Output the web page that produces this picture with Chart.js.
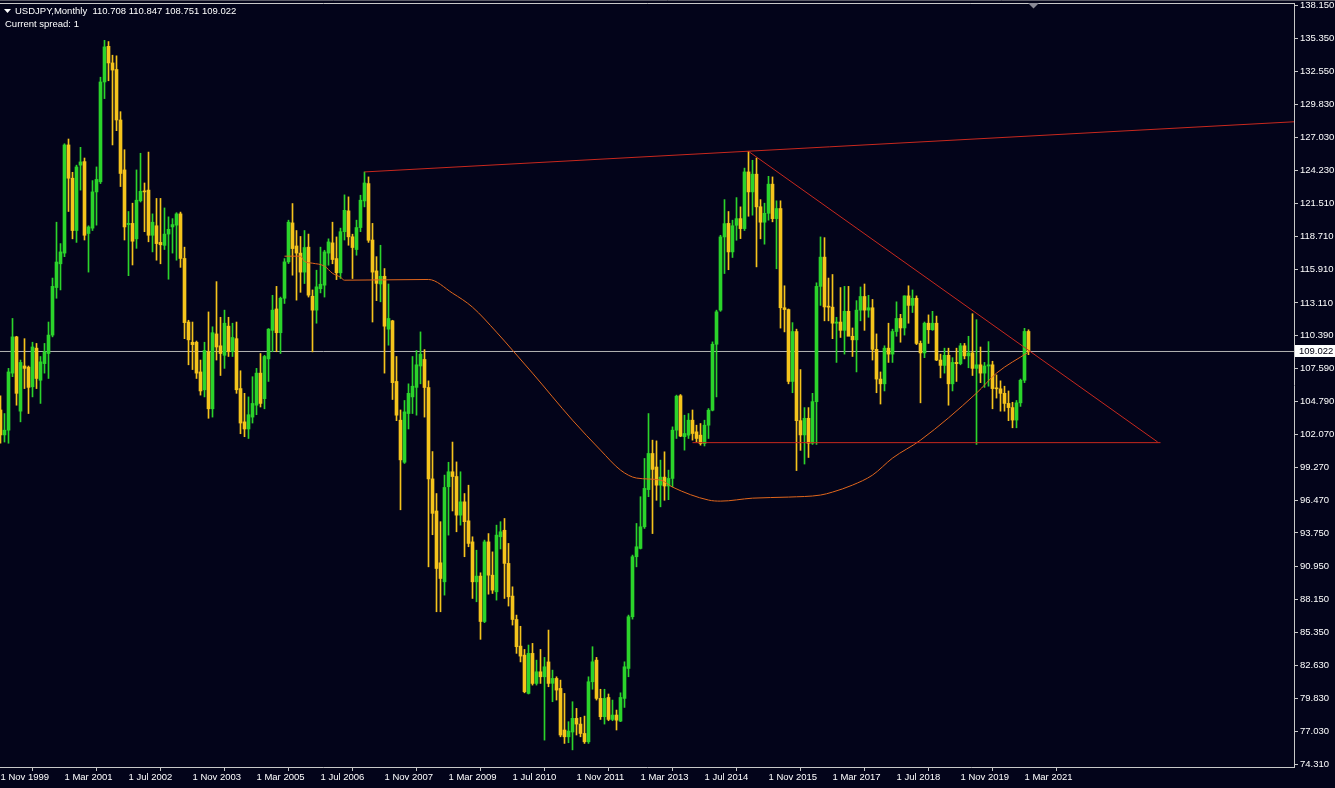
<!DOCTYPE html>
<html><head><meta charset="utf-8">
<script src="https://cdn.jsdelivr.net/npm/chart.js@4.4.1/dist/chart.umd.min.js"></script>
<style>
html,body{margin:0;padding:0;background:#03041a;overflow:hidden}
#wrap{position:relative;width:1335px;height:788px}
</style></head><body>
<div id="wrap"><canvas id="c" width="1335" height="788"></canvas></div>
<script>
// Monthly candles, index 0 = Nov 1999
const symbolName = 'USDJPY';
const periodName = 'Monthly';
const spreadText = 'Current spread: 1';
const opens = [
104.1,102.0,102.4,107.2,110.25,104.0,107.8,107.7,106.05,109.3,106.6,108.0,
108.85,110.4,114.4,116.4,117.3,126.4,123.6,119.2,124.7,125.0,118.95,119.4,
122.45,123.3,131.7,134.7,133.3,132.75,128.5,124.3,119.7,119.8,118.5,121.7,
122.5,122.6,118.8,119.6,118.2,117.95,118.9,119.5,119.65,120.6,116.85,111.5,
109.8,109.8,107.3,105.8,109.0,104.2,110.5,109.5,108.7,111.15,109.0,110.1,
105.9,103.1,102.5,103.5,104.5,107.2,105.05,108.4,110.8,112.6,110.6,113.5,
116.56,119.84,117.9,117.3,115.7,117.8,113.67,112.5,114.3,114.6,117.3,118.16,
116.84,115.64,119.1,120.85,118.67,117.6,119.45,121.69,123.15,118.4,115.8,114.7,
115.35,110.9,111.6,106.5,103.24,99.7,103.8,105.2,106.0,107.8,108.35,105.99,
98.3,95.6,91.24,89.64,97.64,98.9,98.5,95.25,96.37,94.77,93.0,89.64,
90.12,86.3,93.0,90.2,88.8,93.43,93.98,91.19,88.44,86.47,84.23,83.47,
80.25,83.62,81.09,82.07,81.65,82.9,81.1,81.51,80.67,77.17,76.6,77.0,
78.15,77.67,76.88,76.18,81.23,83.05,79.83,78.29,79.91,78.06,78.43,77.92,
79.83,82.35,86.7,91.75,92.45,94.27,97.4,100.44,99.3,97.77,98.45,97.7,
98.34,102.4,105.3,101.85,101.98,103.24,102.26,101.98,101.28,102.82,104.08,109.63,
112.5,118.66,119.8,117.4,119.64,120.2,119.36,124.13,122.45,123.94,121.2,119.9,
120.65,123.1,120.2,121.05,112.7,112.55,106.5,110.7,103.2,102.0,103.4,101.3,
104.8,114.5,116.96,112.77,112.75,111.4,111.5,110.8,112.4,110.3,110.0,112.5,
113.65,112.5,112.7,109.2,106.7,106.3,109.3,108.8,110.7,111.8,111.0,113.7,
112.9,113.5,109.7,108.9,111.4,110.85,111.4,108.3,107.85,108.7,106.3,108.1,
108.0,109.5,108.65,108.9,107.6,107.9,107.2,107.8,107.9,105.9,105.88,105.5,
104.65,104.3,103.25,104.7,106.6,110.708];
const highs = [
105.3,103.8,107.6,111.8,110.3,108.3,110.1,107.8,109.8,109.7,108.6,109.7,
111.5,115.2,119.9,118.1,126.5,126.9,124.1,124.7,126.2,125.3,119.6,123.4,
124.55,132.1,135.2,135.1,133.95,133.9,129.2,126.0,120.8,121.5,124.3,125.7,
123.2,125.8,120.6,121.9,121.9,121.1,120.35,120.2,120.7,120.75,117.8,111.65,
111.5,109.9,108.3,109.8,112.35,111.1,114.9,111.9,112.5,111.9,111.4,111.5,
107.4,105.5,105.2,106.9,107.6,108.85,108.7,110.95,113.75,114.5,113.6,116.84,
120.07,121.47,119.2,118.7,119.2,118.9,114.2,115.86,117.8,117.54,118.5,119.9,
118.66,119.4,122.2,122.03,118.89,120.07,122.17,124.13,123.71,119.8,117.0,117.96,
116.0,114.7,111.65,108.6,104.1,104.9,106.3,108.6,109.1,110.67,109.18,106.55,
100.6,97.07,94.7,98.62,99.7,101.4,99.73,98.9,97.07,97.77,93.43,92.3,
90.4,93.15,93.7,92.16,94.41,94.7,94.97,92.87,89.22,86.84,85.9,83.95,
84.32,84.46,83.05,83.95,83.28,85.58,82.21,81.65,81.37,80.25,77.87,79.55,
78.99,78.23,78.34,81.65,84.18,83.28,80.6,80.6,80.2,79.69,78.85,80.3,
82.91,86.84,91.89,94.55,96.8,100.02,103.8,101.56,101.5,99.88,100.58,99.04,
102.68,105.35,105.4,103.66,103.8,104.1,102.82,102.96,103.24,104.22,109.83,112.5,
118.8,121.8,120.8,120.07,121.97,121.19,124.45,125.86,125.11,125.3,121.8,121.5,
123.76,123.71,121.7,121.7,114.55,112.6,111.45,110.9,107.5,104.3,104.3,105.5,
114.8,118.66,118.6,115.2,115.5,111.9,114.4,114.5,114.5,111.0,113.3,114.45,
114.7,113.75,113.4,110.5,107.3,109.5,111.4,110.9,113.2,112.15,113.7,114.55,
114.2,113.7,109.9,111.5,112.1,112.4,112.0,108.8,109.3,109.3,108.5,109.3,
109.7,109.7,110.3,112.2,111.7,109.4,108.1,109.85,108.2,107.05,106.55,106.1,
105.7,104.75,104.9,106.7,110.97,110.847];
const lows = [
101.3,101.4,101.3,106.9,104.5,103.1,105.9,103.8,105.2,105.9,104.65,107.2,
106.75,110.25,113.5,114.2,117.0,120.8,118.5,118.2,122.6,118.4,115.7,119.2,
119.65,123.15,130.3,131.8,126.4,127.6,122.9,118.4,115.4,116.3,117.7,121.6,
119.1,118.25,117.4,116.7,116.4,117.6,115.1,117.3,116.7,116.1,110.1,107.9,
107.5,106.75,105.35,105.2,103.4,103.5,108.3,107.0,107.6,108.6,108.6,105.5,
102.1,101.85,101.7,103.0,103.7,104.35,104.2,106.5,109.0,109.0,108.85,113.06,
116.42,115.44,113.34,114.0,114.74,113.6,108.99,111.4,113.95,113.6,116.28,116.4,
115.07,115.16,118.4,117.96,115.16,117.12,119.1,121.19,118.2,111.5,113.3,113.2,
107.2,109.55,104.98,103.2,95.7,99.6,102.5,103.8,103.66,106.3,103.5,90.9,
93.6,87.12,87.12,88.52,93.57,95.6,93.85,94.41,91.75,92.59,88.24,87.96,
84.8,86.2,88.6,88.66,88.1,92.4,88.24,87.6,86.0,83.62,82.9,80.3,
80.2,80.95,80.95,81.09,76.32,80.81,79.55,79.69,76.6,76.04,76.1,75.5,
76.75,76.6,76.04,76.04,80.6,79.69,78.06,77.67,77.95,77.95,77.17,77.87,
79.07,81.65,86.5,90.9,92.4,94.13,96.8,93.7,96.5,95.95,96.5,96.55,
97.63,101.7,101.85,100.72,101.7,101.56,101.42,101.14,101.07,101.7,104.02,105.2,
112.4,115.58,115.9,116.93,118.38,118.52,119.2,120.4,120.49,116.14,118.5,118.05,
120.07,119.93,115.98,110.99,110.67,106.3,105.55,99.0,100.7,99.55,100.1,101.2,
101.2,112.9,111.6,111.6,110.1,108.1,110.2,108.8,110.6,108.6,107.3,111.6,
110.8,111.9,108.3,105.55,104.6,105.7,108.1,108.1,110.3,109.8,110.4,111.4,
112.3,109.6,104.7,108.5,109.7,110.8,108.25,106.8,107.2,104.5,105.7,106.5,
107.9,108.4,107.65,107.0,101.2,106.4,106.0,106.1,104.2,105.1,104.0,104.0,
103.2,102.6,102.6,104.4,106.4,108.751];
const closes = [
102.0,102.4,107.3,110.25,105.5,108.1,107.6,106.0,109.4,106.75,108.15,109.0,
110.4,114.5,116.55,117.4,126.4,123.6,119.2,124.55,124.97,118.8,119.5,122.45,
123.5,131.7,134.65,133.3,132.7,128.5,124.0,119.5,119.8,118.3,121.75,122.5,
122.45,118.8,119.9,118.1,118.0,118.9,119.3,119.7,120.6,116.85,111.45,110.0,
109.6,107.2,105.7,109.1,104.2,110.6,109.4,108.85,111.4,109.0,110.2,105.8,
103.0,102.5,103.7,104.65,107.2,104.65,108.6,110.9,112.5,110.6,113.5,116.56,
119.9,117.68,117.3,115.7,117.77,113.76,112.5,114.46,114.68,117.4,118.24,116.76,
115.64,119.1,120.9,118.67,117.77,119.45,121.75,123.2,118.38,115.7,114.75,115.35,
111.15,111.8,106.4,103.66,99.9,103.94,105.5,106.1,107.9,108.8,105.99,98.3,
95.4,90.76,89.92,97.58,98.9,98.5,95.25,96.37,94.7,92.87,89.64,90.12,
86.3,93.0,90.2,88.94,93.57,93.85,91.19,88.38,86.47,84.18,83.39,80.39,
83.62,81.09,82.07,81.65,82.49,81.09,81.51,80.53,76.75,76.6,77.08,78.15,
77.67,76.88,76.18,81.23,82.91,79.83,78.29,79.83,78.06,78.43,78.0,79.91,
82.49,86.7,91.75,92.59,94.27,97.5,100.44,99.1,97.77,98.45,97.7,98.34,
102.4,105.26,101.9,102.12,103.24,102.12,101.7,101.28,102.82,104.08,109.63,112.36,
118.66,119.78,117.4,119.6,120.2,119.36,124.13,122.45,123.94,121.19,119.9,120.65,
123.1,120.2,121.05,112.7,112.55,106.5,110.7,103.2,102.0,103.4,101.3,104.8,
114.5,116.96,112.77,112.75,111.4,111.5,110.8,112.4,110.3,110.0,112.5,113.65,
112.5,112.7,109.2,106.7,106.3,109.3,108.8,110.7,111.8,111.0,113.7,112.9,
113.5,109.7,108.9,111.4,110.85,111.4,108.3,107.85,108.7,106.3,108.1,108.0,
109.5,108.65,108.9,107.6,107.9,107.2,107.8,107.9,105.9,105.88,105.5,104.65,
104.3,103.25,104.7,106.6,110.708,109.022];

// Time axis labels (month index -> label)
const xTickMonths = [0,16,32,48,64,80,96,112,128,144,160,176,192,208,224,240,256];
const xTickLabels = ['1 Nov 1999','1 Mar 2001','1 Jul 2002','1 Nov 2003','1 Mar 2005','1 Jul 2006','1 Nov 2007','1 Mar 2009','1 Jul 2010','1 Nov 2011','1 Mar 2013','1 Jul 2014','1 Nov 2015','1 Mar 2017','1 Jul 2018','1 Nov 2019','1 Mar 2021'];
// Price axis labels
const yTickValues = [138.150,135.350,132.550,129.830,127.030,124.230,121.510,118.710,115.910,113.110,110.390,107.590,104.790,102.070,99.270,96.470,93.750,90.950,88.150,85.350,82.630,79.830,77.030,74.310];

// Moving average (month index, price)
const maMonths = [71,75,76,78,81,83,85,86,107,113,118,124,128,133,143,150,155,159,165,168,177,180,188,197,205,208,213,218,223,230,244,249,257];
const maValues = [117.04,117.04,116.6,116.45,116.2,115.6,115.27,115.02,115.08,113.93,112.75,110.65,109.13,107.2,103.24,100.72,99.04,98.37,98.2,97.61,96.52,96.43,96.68,96.77,96.94,97.19,97.78,98.62,100.05,101.56,105.52,107.2,108.97];

// Trend lines (month index, price)
const resistMonths = [91, 323.4];
const resistValues = [124.13, 128.35];
const descMonths = [187, 289.3];
const descValues = [125.86, 101.4];
const supportMonths = [173, 290];
const supportValues = [101.35, 101.35];
const currentPrice = 109.022;

const X_MIN = -0.125, X_MAX = 323.375;
const Y_MIN = 74.058, Y_MAX = 138.344;

const BG = '#03041a';
const BULL = '#2bd42b';
const BEAR = '#f5c41c';
const RED = '#c8281e';
const MA_COLOR = '#e0661c';
const AXIS = '#c8c8c8';
const FONT = '"Liberation Sans", Arial, sans-serif';
const FSIZE = 9.5;

const n = Math.min(opens.length, highs.length, lows.length, closes.length);
const bodies = [], wicks = [], colors = [];
for (let i = 0; i < n; i++) {
  bodies.push({x: i, y: [Math.min(opens[i], closes[i]), Math.max(opens[i], closes[i])]});
  wicks.push({x: i, y: [lows[i], highs[i]]});
  colors.push(closes[i] >= opens[i] ? BULL : BEAR);
}
const toPts = (xs, ys) => xs.map((x, i) => ({x, y: ys[i]}));

const overlay = {
  id: 'overlay',
  beforeDraw(chart) {
    const ctx = chart.ctx;
    ctx.save();
    ctx.fillStyle = BG;
    ctx.fillRect(0, 0, chart.width, chart.height);
    ctx.restore();
  },
  afterDraw(chart) {
    const ctx = chart.ctx, a = chart.chartArea, ys = chart.scales.y;
    ctx.save();
    // window frame line and chart top border
    ctx.lineWidth = 1;
    ctx.strokeStyle = '#5c5c68';
    ctx.beginPath(); ctx.moveTo(0, 0.5); ctx.lineTo(chart.width, 0.5); ctx.stroke();
    ctx.strokeStyle = AXIS;
    ctx.beginPath(); ctx.moveTo(a.left, a.top + 0.5); ctx.lineTo(a.right + 0.5, a.top + 0.5); ctx.stroke();
    // chart shift marker
    ctx.fillStyle = '#8a8a96';
    ctx.beginPath(); ctx.moveTo(1028, a.top); ctx.lineTo(1039, a.top); ctx.lineTo(1033.5, a.top + 5.5); ctx.closePath(); ctx.fill();
    // title
    ctx.fillStyle = '#ffffff';
    ctx.beginPath(); ctx.moveTo(4, 9); ctx.lineTo(11, 9); ctx.lineTo(7.5, 13); ctx.closePath(); ctx.fill();
    ctx.font = FSIZE + 'px ' + FONT; ctx.textBaseline = 'middle'; ctx.textAlign = 'left';
    const last = n - 1;
    const title = symbolName + ',' + periodName + '  ' + opens[last].toFixed(3) + ' ' + highs[last].toFixed(3) + ' ' + lows[last].toFixed(3) + ' ' + closes[last].toFixed(3);
    ctx.fillText(title, 15, 11.5);
    ctx.fillText(spreadText, 5, 24.5);
    // current price label
    const py = Math.round(ys.getPixelForValue(currentPrice));
    ctx.fillStyle = '#ffffff';
    ctx.fillRect(a.right + 1, py - 6, chart.width - a.right - 1, 12);
    ctx.fillStyle = '#000010';
    ctx.fillText(currentPrice.toFixed(3), a.right + 5, py + 0.5);
    ctx.restore();
  }
};

new Chart(document.getElementById('c'), {
  type: 'bar',
  data: {
    datasets: [
      {type: 'line', data: toPts(resistMonths, resistValues), borderColor: RED, borderWidth: 1, pointRadius: 0, order: 0},
      {type: 'line', data: toPts(descMonths, descValues), borderColor: RED, borderWidth: 1, pointRadius: 0, order: 0},
      {type: 'line', data: toPts(supportMonths, supportValues), borderColor: RED, borderWidth: 1, pointRadius: 0, order: 0},
      {type: 'line', data: toPts(maMonths, maValues), borderColor: MA_COLOR, borderWidth: 1, pointRadius: 0, cubicInterpolationMode: 'monotone', order: 1},
      {type: 'bar', data: bodies, backgroundColor: colors, barThickness: 3, grouped: false, minBarLength: 1, borderWidth: 0, order: 2},
      {type: 'bar', data: wicks, backgroundColor: colors, barThickness: 1, grouped: false, borderWidth: 0, order: 3},
      {type: 'line', data: [{x: X_MIN, y: currentPrice}, {x: X_MAX, y: currentPrice}], borderColor: '#b4b4b4', borderWidth: 1, pointRadius: 0, order: 4}
    ]
  },
  options: {
    responsive: false,
    animation: false,
    devicePixelRatio: 1,
    layout: {padding: {top: 3, left: 0, right: 0, bottom: 0}, autoPadding: false},
    plugins: {legend: {display: false}, tooltip: {enabled: false}},
    scales: {
      x: {
        type: 'linear', min: X_MIN, max: X_MAX, offset: false,
        afterBuildTicks: s => { s.ticks = xTickMonths.map(v => ({value: v})); },
        afterFit: s => { s.height = 21; s.paddingLeft = 0; s.paddingRight = 0; },
        grid: {drawOnChartArea: false, drawTicks: true, tickLength: 4, color: AXIS},
        border: {display: true, color: AXIS},
        ticks: {
          align: 'start', autoSkip: false, maxRotation: 0, minRotation: 0, color: '#ffffff', padding: 1,
          font: {family: FONT, size: FSIZE},
          callback: v => { const i = xTickMonths.indexOf(v); return i >= 0 ? xTickLabels[i] : ''; }
        }
      },
      y: {
        type: 'linear', position: 'right', min: Y_MIN, max: Y_MAX,
        afterBuildTicks: s => { s.ticks = yTickValues.map(v => ({value: v})); },
        afterFit: s => { s.width = 41; s.paddingTop = 0; s.paddingBottom = 0; },
        grid: {drawOnChartArea: false, drawTicks: true, tickLength: 4, color: AXIS},
        border: {display: true, color: AXIS},
        ticks: {color: '#ffffff', padding: 2, font: {family: FONT, size: FSIZE}, callback: v => Number(v).toFixed(3)}
      }
    }
  },
  plugins: [overlay]
});
</script>
</body></html>
